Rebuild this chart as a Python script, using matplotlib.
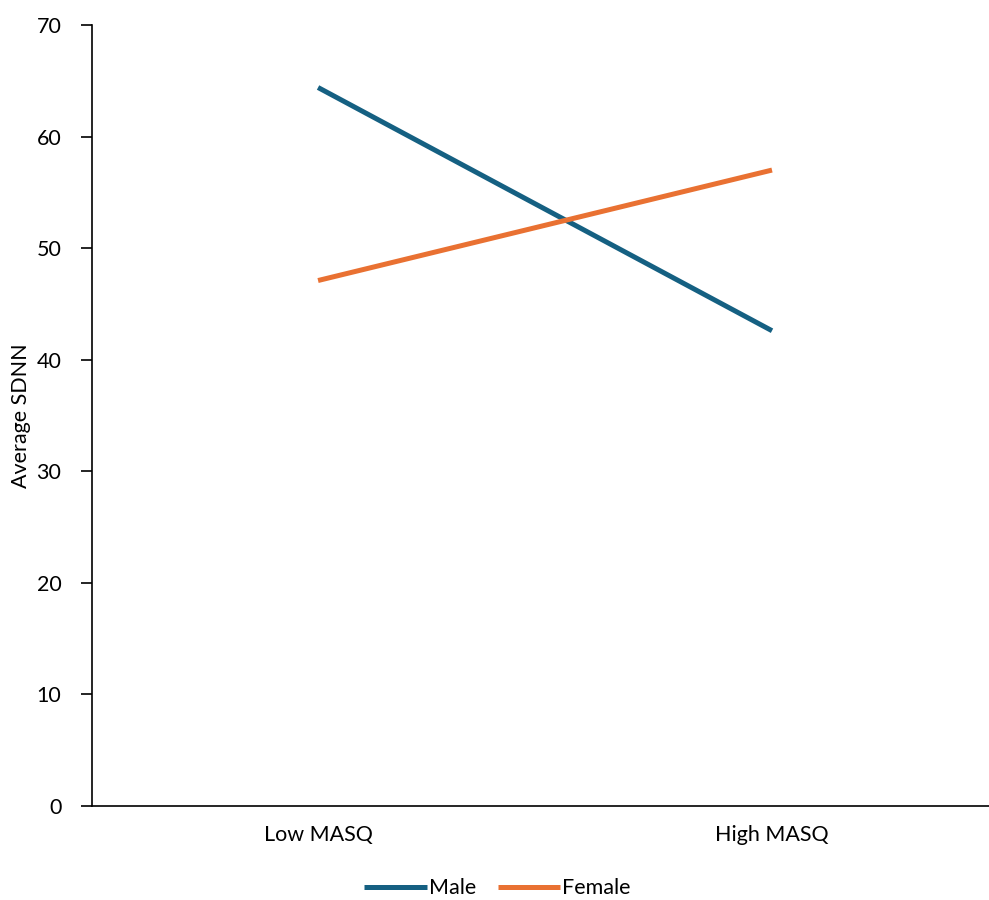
import matplotlib.pyplot as plt

categories = ['Low MASQ', 'High MASQ']
male = [64.4, 42.6]
female = [47.1, 57.0]

plt.rcParams['font.family'] = ['Lato', 'DejaVu Sans']

dpi = 100
fig = plt.figure(figsize=(989 / dpi, 900 / dpi), dpi=dpi)
ax = fig.add_axes([0.093, 0.1044, 0.907, 0.8678])

xs = range(len(categories))
ax.plot(xs, male, color='#156082', lw=3.6, label='Male', solid_capstyle='butt')
ax.plot(xs, female, color='#E97132', lw=3.6, label='Female', solid_capstyle='butt')

ax.set_xlim(-0.498, 1.478)
ax.set_ylim(0, 70)
ax.set_yticks(range(0, 71, 10))
ax.set_xticks(list(xs))
ax.set_xticklabels(categories)
ax.tick_params(axis='x', length=0, pad=14, labelsize=15.5)
ax.tick_params(axis='y', length=8, width=1.2, direction='out', pad=14, labelsize=15.5)
ax.spines['top'].set_visible(False)
ax.spines['right'].set_visible(False)
ax.spines['left'].set_linewidth(1.2)
ax.spines['bottom'].set_linewidth(1.2)
ax.set_ylabel('Average SDNN', fontsize=15.5, labelpad=4)

ax.legend(loc='center', bbox_to_anchor=(0.452, -0.105), ncol=2, frameon=False,
          fontsize=15.5, handlelength=2.9, handletextpad=0.1, columnspacing=1.0)

fig.savefig('out.png', dpi=dpi)
